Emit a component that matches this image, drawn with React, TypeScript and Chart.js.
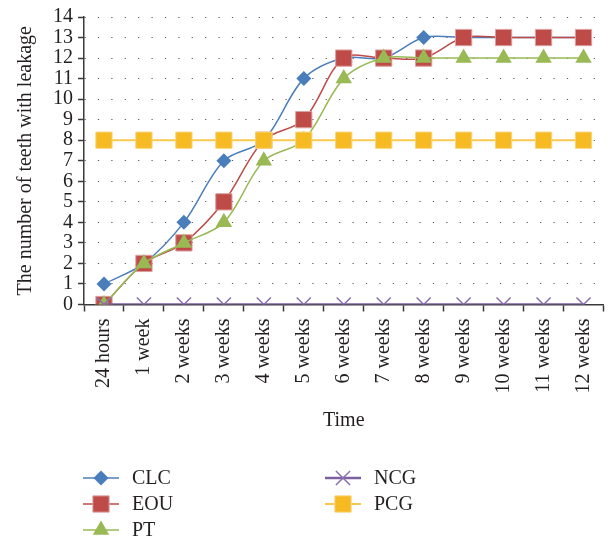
import React, { useEffect, useRef } from "react";
import { Chart, registerables } from "chart.js";

Chart.register(...registerables);

const categories = [
  "24 hours", "1 week", "2 weeks", "3 weeks", "4 weeks", "5 weeks", "6 weeks",
  "7 weeks", "8 weeks", "9 weeks", "10 weeks", "11 weeks", "12 weeks",
];
const clc = [1, 2, 4, 7, 8, 11, 12, 12, 13, 13, 13, 13, 13];
const eou = [0, 2, 3, 5, 8, 9, 12, 12, 12, 13, 13, 13, 13];
const pt = [0, 2, 3, 4, 7, 8, 11, 12, 12, 12, 12, 12, 12];
const ncg = [0, 0, 0, 0, 0, 0, 0, 0, 0, 0, 0, 0, 0];
const pcg = [8, 8, 8, 8, 8, 8, 8, 8, 8, 8, 8, 8, 8];
const yTicks = [0, 1, 2, 3, 4, 5, 6, 7, 8, 9, 10, 11, 12, 13, 14];

const FONT = "'Liberation Serif', 'Times New Roman', serif";
const TEXT = "#231f20";
const AXIS = "#3a3a3a";

function drawMarker(ctx: CanvasRenderingContext2D, style: string, x: number, y: number, r: number, fill: string, stroke: string, bw: number) {
  ctx.save();
  ctx.beginPath();
  if (style === "rectRot") {
    ctx.moveTo(x - r, y);
    ctx.lineTo(x, y - r);
    ctx.lineTo(x + r, y);
    ctx.lineTo(x, y + r);
    ctx.closePath();
  } else if (style === "rect") {
    const s = Math.SQRT1_2 * r;
    ctx.rect(x - s, y - s, 2 * s, 2 * s);
  } else if (style === "triangle") {
    ctx.moveTo(x, y - r);
    ctx.lineTo(x + r * Math.cos(Math.PI / 6), y + r * Math.sin(Math.PI / 6));
    ctx.lineTo(x - r * Math.cos(Math.PI / 6), y + r * Math.sin(Math.PI / 6));
    ctx.closePath();
  } else if (style === "crossRot") {
    const d = r * Math.SQRT1_2;
    ctx.moveTo(x - d, y - d);
    ctx.lineTo(x + d, y + d);
    ctx.moveTo(x - d, y + d);
    ctx.lineTo(x + d, y - d);
  }
  if (style !== "crossRot") {
    ctx.fillStyle = fill;
    ctx.fill();
  }
  if (bw > 0) {
    ctx.lineWidth = bw;
    ctx.strokeStyle = stroke;
    ctx.stroke();
  }
  ctx.restore();
}

const legendSlots = [
  { x: 83, y: 478 },
  { x: 83, y: 504 },
  { x: 83, y: 530 },
  { x: 325, y: 478 },
  { x: 325, y: 504 },
];

const legendPlugin = {
  id: "columnLegend",
  afterDraw(chart: any) {
    const ctx: CanvasRenderingContext2D = chart.ctx;
    chart.data.datasets.forEach((ds: any, i: number) => {
      const slot = legendSlots[i];
      if (!slot) return;
      ctx.save();
      ctx.strokeStyle = ds.borderColor;
      ctx.lineWidth = ds.borderWidth;
      ctx.beginPath();
      ctx.moveTo(slot.x, slot.y);
      ctx.lineTo(slot.x + 36, slot.y);
      ctx.stroke();
      ctx.restore();
      drawMarker(ctx, ds.pointStyle, slot.x + 18, slot.y, ds.pointRadius, ds.pointBackgroundColor, ds.pointBorderColor, ds.pointBorderWidth);
      ctx.save();
      ctx.fillStyle = TEXT;
      ctx.font = `20px ${FONT}`;
      ctx.textBaseline = "middle";
      ctx.textAlign = "left";
      ctx.fillText(ds.label, slot.x + 49, slot.y + 1);
      ctx.restore();
    });
  },
};

export default function App() {
  const ref = useRef<HTMLCanvasElement | null>(null);

  useEffect(() => {
    if (!ref.current) return;
    const tension = 0.33;
    const chart = new Chart(ref.current, {
      type: "line",
      data: {
        labels: categories,
        datasets: [
          {
            label: "CLC", data: clc, borderColor: "#4a7ebb", borderWidth: 1.5,
            pointStyle: "rectRot", pointRadius: 7.5, pointBackgroundColor: "#4a7ebb",
            pointBorderColor: "#4a7ebb", pointBorderWidth: 0, tension, order: 5,
          },
          {
            label: "EOU", data: eou, borderColor: "#be4b48", borderWidth: 1.5,
            pointStyle: "rect", pointRadius: 11.5, pointBackgroundColor: "#be4b48",
            pointBorderColor: "#dda0a0", pointBorderWidth: 1, tension, order: 4,
          },
          {
            label: "PT", data: pt, borderColor: "#98b954", borderWidth: 1.5,
            pointStyle: "triangle", pointRadius: 9.5, pointBackgroundColor: "#98b954",
            pointBorderColor: "#98b954", pointBorderWidth: 0, tension, order: 3,
          },
          {
            label: "NCG", data: ncg, borderColor: "#7d60a0", borderWidth: 2.5,
            pointStyle: "crossRot", pointRadius: 10, pointBackgroundColor: "#7d60a0",
            pointBorderColor: "#8a6fae", pointBorderWidth: 1.5, tension, order: 2,
          },
          {
            label: "PCG", data: pcg, borderColor: "#f8c94e", borderWidth: 2,
            pointStyle: "rect", pointRadius: 11.5, pointBackgroundColor: "#f6bb22",
            pointBorderColor: "#f9d47a", pointBorderWidth: 1, tension, order: 1,
          },
        ],
      },
      options: {
        responsive: false,
        animation: false,
        events: [],
        layout: { padding: { left: 0, right: 9, top: 15, bottom: 81 } },
        plugins: { legend: { display: false }, tooltip: { enabled: false } },
        scales: {
          x: {
            type: "category",
            offset: true,
            grid: {
              offset: true,
              drawOnChartArea: false,
              drawTicks: true,
              tickLength: 7,
              tickColor: AXIS,
              tickWidth: 1.5,
            },
            border: { display: true, color: AXIS, width: 1.5 },
            ticks: {
              color: TEXT,
              font: { family: FONT, size: 20 },
              minRotation: 90,
              maxRotation: 90,
              autoSkip: false,
              padding: 7,
            },
            title: {
              display: true,
              text: "Time",
              color: TEXT,
              font: { family: FONT, size: 20 },
              padding: { top: 0, bottom: 27 },
            },
            afterFit(scale: any) {
              scale.height = 155.5;
            },
          },
          y: {
            type: "linear",
            min: 0,
            max: 14,
            afterBuildTicks(scale: any) {
              scale.ticks = yTicks.map((v) => ({ value: v }));
            },
            grid: {
              drawOnChartArea: true,
              drawTicks: true,
              tickLength: 6,
              color: "#555555",
              lineWidth: 1,
              tickColor: AXIS,
              tickWidth: 1.5,
              tickBorderDash: [],
            },
            border: { display: true, color: AXIS, width: 1.5, dash: [1.2, 12.2] },
            ticks: {
              color: TEXT,
              font: { family: FONT, size: 20 },
              padding: 5,
              autoSkip: false,
              stepSize: 1,
            },
            title: {
              display: true,
              text: "The number of teeth with leakage",
              color: TEXT,
              font: { family: FONT, size: 20 },
              padding: { top: 14, bottom: 0 },
            },
            afterFit(scale: any) {
              scale.width = 84;
            },
          },
        },
      },
      plugins: [legendPlugin],
    } as any);
    return () => chart.destroy();
  }, []);

  return (
    <div style={{ position: "absolute", left: 0, top: 0, width: 616, height: 541, background: "#fff" }}>
      <canvas ref={ref} width={616} height={541} style={{ display: "block" }} />
    </div>
  );
}
